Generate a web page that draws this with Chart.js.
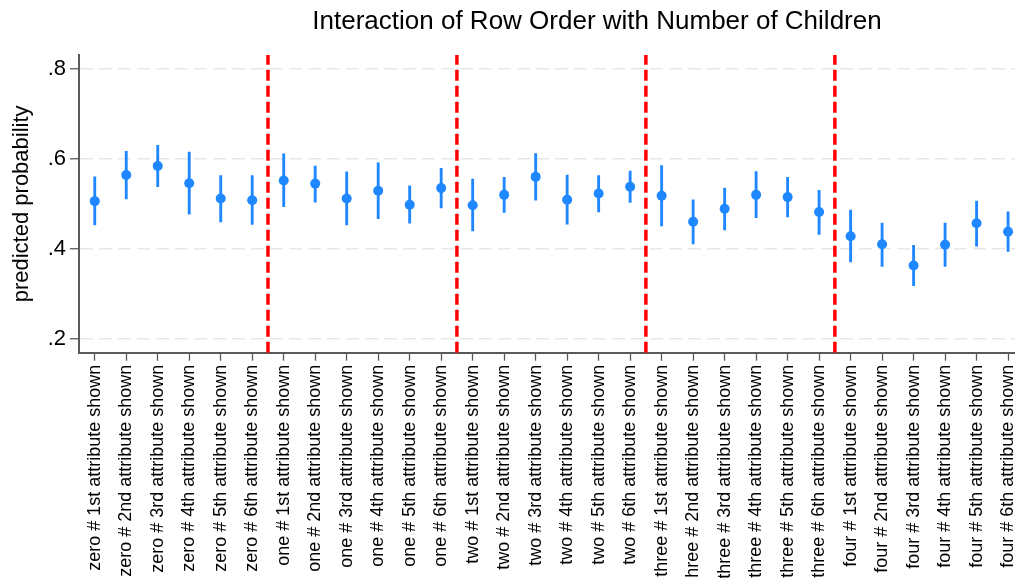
<!DOCTYPE html>
<html>
<head>
<meta charset="utf-8">
<script src="https://cdn.jsdelivr.net/npm/chart.js@4.4.1/dist/chart.umd.min.js"></script>
<style>
  html, body { margin: 0; padding: 0; background: #ffffff; }
  #wrap { width: 1015px; height: 578px; position: relative; }
</style>
</head>
<body>
<div id="wrap"><canvas id="chart"></canvas></div>
<script>
// Categories: number of children × row position of the attribute
const categories = [
  "zero # 1st attribute shown", "zero # 2nd attribute shown", "zero # 3rd attribute shown",
  "zero # 4th attribute shown", "zero # 5th attribute shown", "zero # 6th attribute shown",
  "one # 1st attribute shown", "one # 2nd attribute shown", "one # 3rd attribute shown",
  "one # 4th attribute shown", "one # 5th attribute shown", "one # 6th attribute shown",
  "two # 1st attribute shown", "two # 2nd attribute shown", "two # 3rd attribute shown",
  "two # 4th attribute shown", "two # 5th attribute shown", "two # 6th attribute shown",
  "three # 1st attribute shown", "three # 2nd attribute shown", "three # 3rd attribute shown",
  "three # 4th attribute shown", "three # 5th attribute shown", "three # 6th attribute shown",
  "four # 1st attribute shown", "four # 2nd attribute shown", "four # 3rd attribute shown",
  "four # 4th attribute shown", "four # 5th attribute shown", "four # 6th attribute shown"
];

// Predicted probabilities with their confidence bounds
const estimates = [
  0.506, 0.564, 0.584, 0.546, 0.512, 0.508,
  0.552, 0.545, 0.512, 0.529, 0.498, 0.535,
  0.497, 0.520, 0.560, 0.509, 0.523, 0.538,
  0.518, 0.460, 0.489, 0.520, 0.515, 0.482,
  0.428, 0.410, 0.363, 0.409, 0.457, 0.438
];
const lowerCI = [
  0.453, 0.511, 0.538, 0.477, 0.460, 0.454,
  0.494, 0.504, 0.453, 0.467, 0.457, 0.491,
  0.440, 0.481, 0.508, 0.455, 0.482, 0.503,
  0.451, 0.411, 0.442, 0.469, 0.471, 0.432,
  0.371, 0.361, 0.318, 0.361, 0.406, 0.394
];
const upperCI = [
  0.560, 0.617, 0.630, 0.615, 0.563, 0.563,
  0.611, 0.584, 0.571, 0.591, 0.540, 0.579,
  0.555, 0.559, 0.612, 0.564, 0.563, 0.573,
  0.585, 0.509, 0.535, 0.572, 0.559, 0.530,
  0.486, 0.457, 0.408, 0.457, 0.506, 0.482
];

const yTickValues = [0.2, 0.4, 0.6, 0.8];
// Separators between the children groups
const groupBreaks = [5.5, 11.5, 17.5, 23.5];

const chartTitle = "Interaction of Row Order with Number of Children";
const yAxisTitle = "predicted probability";

const Y_MIN = 0.169, Y_MAX = 0.831;
const X_MIN = -0.5, X_MAX = 29.22;
const FONT = "'Liberation Sans', Arial, Helvetica, sans-serif";
const BLUE = "#1f87ff";
const AXIS = "#5a5a5a";

Chart.defaults.font.family = FONT;
Chart.defaults.color = "#000000";

const breakDatasets = groupBreaks.map(b => ({
  type: "line",
  data: [{ x: b, y: Y_MIN }, { x: b, y: Y_MAX }],
  borderColor: "#ff0000",
  borderWidth: 3.5,
  borderDash: [11, 5],
  pointRadius: 0,
  fill: false,
  order: 3
}));

const titlePlugin = {
  id: "topTitle",
  afterDraw(chart) {
    const ctx = chart.ctx;
    ctx.save();
    ctx.font = "26px " + FONT;
    ctx.fillStyle = "#000000";
    ctx.textAlign = "center";
    ctx.textBaseline = "alphabetic";
    ctx.fillText(chartTitle, 597, 29);
    ctx.restore();
  }
};

new Chart(document.getElementById("chart"), {
  type: "bar",
  data: {
    datasets: [
      {
        type: "scatter",
        data: estimates.map((v, i) => ({ x: i, y: v })),
        backgroundColor: BLUE,
        borderColor: BLUE,
        pointRadius: 5,
        pointHoverRadius: 5,
        borderWidth: 0,
        order: 1
      },
      {
        type: "bar",
        data: estimates.map((v, i) => ({ x: i, y: [lowerCI[i], upperCI[i]] })),
        backgroundColor: BLUE,
        borderWidth: 0,
        barThickness: 2.2,
        order: 2
      },
      ...breakDatasets
    ]
  },
  options: {
    responsive: true,
    maintainAspectRatio: false,
    animation: false,
    events: [],
    layout: { autoPadding: false, padding: { top: 55, left: 0, right: 0, bottom: 0 } },
    plugins: {
      legend: { display: false },
      tooltip: { enabled: false },
      title: { display: false }
    },
    scales: {
      x: {
        type: "linear",
        min: X_MIN,
        max: X_MAX,
        offset: false,
        grid: {
          offset: false,
          drawOnChartArea: false,
          drawTicks: true,
          tickLength: 8,
          tickColor: AXIS,
          tickWidth: 1.3,
          tickBorderDash: []
        },
        border: { display: true, color: AXIS, width: 2 },
        afterBuildTicks(scale) {
          scale.ticks = categories.map((c, i) => ({ value: i }));
        },
        afterFit(scale) {
          scale.height = 225.3;
          scale.paddingLeft = 0;
          scale.paddingRight = 0;
        },
        ticks: {
          autoSkip: false,
          maxRotation: 90,
          minRotation: 90,
          padding: 4,
          color: "#000000",
          font: { size: 18 },
          callback: (v) => categories[v]
        }
      },
      y: {
        type: "linear",
        min: Y_MIN,
        max: Y_MAX,
        afterBuildTicks(scale) {
          scale.ticks = yTickValues.map(v => ({ value: v }));
        },
        afterFit(scale) {
          scale.width = 79;
        },
        grid: {
          color: "#e8e8e8",
          lineWidth: 1.5,
          tickColor: AXIS,
          tickLength: 9,
          tickWidth: 1.3,
          tickBorderDash: []
        },
        border: { display: true, color: AXIS, width: 2, dash: [13, 6] },
        ticks: {
          padding: 4,
          color: "#000000",
          font: { size: 22 },
          callback: (v) => v.toFixed(1).replace(/^0/, "")
        },
        title: {
          display: true,
          text: yAxisTitle,
          color: "#000000",
          font: { size: 22 },
          padding: { top: 9, bottom: 0 }
        }
      }
    }
  },
  plugins: [titlePlugin]
});
</script>
</body>
</html>
